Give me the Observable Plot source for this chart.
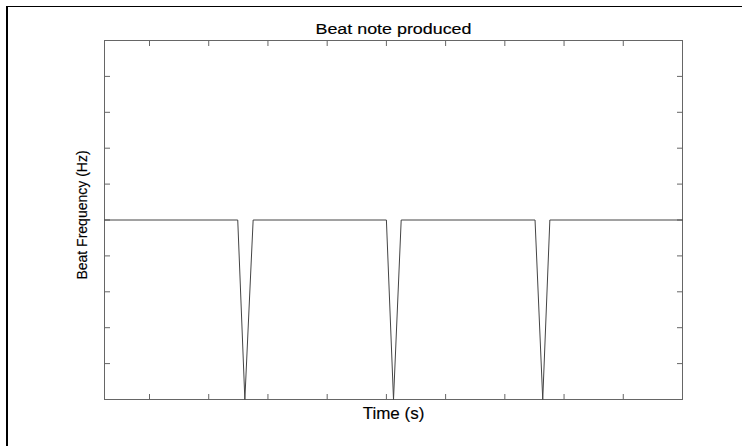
<!DOCTYPE html>
<html>
<head>
<meta charset="utf-8">
<script src="https://cdn.jsdelivr.net/npm/d3@7"></script>
<script src="https://cdn.jsdelivr.net/npm/@observablehq/plot@0.6"></script>
<style>
  html, body { margin: 0; padding: 0; background: #fff; }
  #wrap { position: relative; width: 742px; height: 446px; overflow: hidden; }
  #edge { position: absolute; left: 6px; top: 6px; right: 0; bottom: 0;
          border-top: 1px solid #000; border-left: 2px solid #000; pointer-events: none; }
  #chart { position: absolute; left: 0; top: 0; }
</style>
</head>
<body>
<div id="wrap">
  <div id="chart"></div>
  <div id="edge"></div>
</div>
<script>
// Beat frequency over time: steady tone with three short dips to zero
const time = [0.24, 2.49, 2.61, 2.75, 5.00, 5.12, 5.25, 7.51, 7.64, 7.76, 10.0];
const beat = [5, 5, 0, 5, 5, 0, 5, 5, 0, 5, 5];

// Unlabelled tick positions
const xTicks = [1, 2, 3, 4, 5, 6, 7, 8, 9];
const yTicks = [1, 2, 3, 4, 5, 6, 7, 8, 9];

const titleText = "Beat note produced";
const xLabel = "Time (s)";
const yLabel = "Beat Frequency (Hz)";

const series = time.map((t, i) => ({t, f: beat[i]}));
const font = "Liberation Sans, Arial, Helvetica, sans-serif";
const axisGray = "#666";
const ink = {fill: "#000", stroke: "#000", strokeWidth: 0.15, textAnchor: "middle", lineAnchor: "middle"};

const chart = Plot.plot({
  width: 742,
  height: 446,
  marginLeft: 104,
  marginRight: 60,
  marginTop: 40,
  marginBottom: 47,
  style: {fontFamily: font, background: "transparent", color: "#000"},
  x: {domain: [0.24, 10]},
  y: {domain: [0, 10]},
  marks: [
    Plot.frame({stroke: axisGray}),
    Plot.axisX(xTicks, {anchor: "bottom", tickSize: -5, tickFormat: () => "", label: null, stroke: axisGray}),
    Plot.axisX(xTicks, {anchor: "top", tickSize: -5, tickFormat: () => "", label: null, stroke: axisGray}),
    Plot.axisY(yTicks, {anchor: "left", tickSize: -6, tickFormat: () => "", label: null, stroke: axisGray}),
    Plot.axisY(yTicks, {anchor: "right", tickSize: -6, tickFormat: () => "", label: null, stroke: axisGray}),
    Plot.line(series, {x: "t", y: "f", stroke: "#444", strokeWidth: 1}),
    Plot.text([titleText], {...ink, className: "title", frameAnchor: "top", dy: -11, fontSize: 14}),
    Plot.text([xLabel], {...ink, frameAnchor: "bottom", dy: 14, fontSize: 17}),
    Plot.text([yLabel], {...ink, frameAnchor: "left", rotate: -90, dx: -22, dy: -5, fontSize: 14})
  ]
});

// the title is set wide, as in the original figure
d3.select(chart).selectAll(".title text")
  .attr("textLength", 156)
  .attr("lengthAdjust", "spacingAndGlyphs");

document.getElementById("chart").appendChild(chart);
</script>
</body>
</html>
